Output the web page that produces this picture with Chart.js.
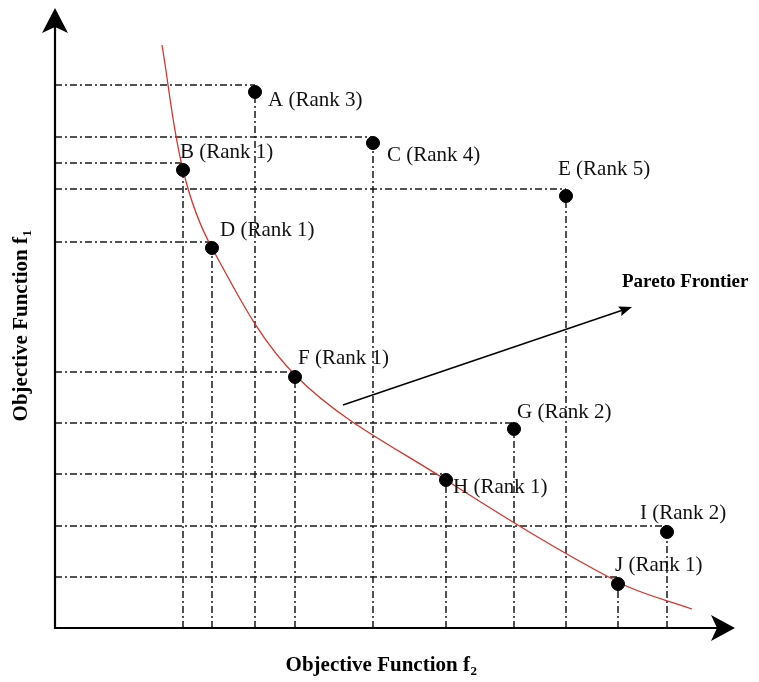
<!DOCTYPE html>
<html lang="en">
<head>
<meta charset="UTF-8">
<title>Pareto Frontier</title>
<script src="https://cdn.jsdelivr.net/npm/chart.js"></script>
<style>
  body { margin: 0; padding: 0; background: #fff; }
  #chart-container { width: 759px; height: 682px; }
</style>
</head>
<body>
<div id="chart-container"><canvas id="paretoChart"></canvas></div>
<script>
// solutions (arbitrary units)
const pointNames = ['A', 'B', 'C', 'D', 'E', 'F', 'G', 'H', 'I', 'J'];
const pointRanks = [3, 1, 4, 1, 5, 1, 2, 1, 2, 1];
const f2Values = [20.0, 12.8, 31.8, 15.7, 51.1, 24.0, 45.9, 39.1, 61.2, 56.3];
const f1Values = [53.6, 45.8, 48.5, 38.0, 43.2, 25.1, 19.9, 14.8, 9.6, 4.4];
// level of the dash-dot guide drawn for each solution
const f1Guides = [54.3, 46.5, 49.1, 38.6, 43.9, 25.6, 20.5, 15.4, 10.2, 5.1];

// red frontier curve
const frontierF2 = [10.7, 12.8, 15.7, 24.2, 39.1, 56.3, 63.7];
const frontierF1 = [58.3, 45.8, 38.0, 25.1, 14.8, 4.6, 1.9];

// "Pareto Frontier" pointer
const arrowFrom = [28.8, 22.3];
const arrowTo = [57.7, 32.1];

const xMax = 68, yMax = 62;

const guideStyle = { borderColor: '#1a1a1a', borderWidth: 1.5, borderDash: [7, 3, 2, 3], pointRadius: 0, fill: false, order: 3 };
const datasets = [];
pointNames.forEach((n, i) => {
  datasets.push(Object.assign({ type: 'line', data: [{ x: 0, y: f1Guides[i] }, { x: f2Values[i], y: f1Guides[i] }] }, guideStyle));
  datasets.push(Object.assign({ type: 'line', data: [{ x: f2Values[i], y: 0 }, { x: f2Values[i], y: f1Values[i] }] }, guideStyle));
});
datasets.push({
  type: 'line',
  data: frontierF2.map((x, i) => ({ x: x, y: frontierF1[i] })),
  borderColor: '#d8342c',
  borderWidth: 1.3,
  pointRadius: 0,
  tension: 0.35,
  fill: false,
  order: 2
});
datasets.push({
  type: 'scatter',
  data: f2Values.map((x, i) => ({ x: x, y: f1Values[i] })),
  backgroundColor: '#000',
  borderColor: '#000',
  pointRadius: 6.5,
  order: 1
});

const labelOffsets = {
  A: [13, 8], B: [-3, -18], C: [14, 12], D: [8, -18], E: [-8, -27],
  F: [3, -19], G: [3, -17], H: [7, 7], I: [-27, -19], J: [-3, -19]
};

function arrowHead(ctx, x, y, ang, len, half, notch) {
  ctx.save();
  ctx.translate(x, y);
  ctx.rotate(ang);
  ctx.beginPath();
  ctx.moveTo(0, 0);
  ctx.lineTo(-len, -half);
  ctx.lineTo(-len + notch, 0);
  ctx.lineTo(-len, half);
  ctx.closePath();
  ctx.fill();
  ctx.restore();
}

const overlay = {
  id: 'overlay',
  afterDatasetsDraw(chart) {
    const ctx = chart.ctx;
    const xs = chart.scales.x, ys = chart.scales.y;
    const x0 = xs.getPixelForValue(0), y0 = ys.getPixelForValue(0);
    const xEnd = xs.getPixelForValue(xMax), yEnd = ys.getPixelForValue(yMax);
    ctx.save();
    ctx.fillStyle = '#000';
    ctx.strokeStyle = '#000';
    // axes
    ctx.lineWidth = 2.2;
    ctx.beginPath();
    ctx.moveTo(x0, y0 + 1);
    ctx.lineTo(x0, yEnd + 12);
    ctx.moveTo(x0 - 1, y0);
    ctx.lineTo(xEnd - 12, y0);
    ctx.stroke();
    arrowHead(ctx, x0, yEnd, -Math.PI / 2, 25, 13, 6);
    arrowHead(ctx, xEnd, y0, 0, 24, 13, 6);

    // pointer to frontier
    const ax = xs.getPixelForValue(arrowFrom[0]), ay = ys.getPixelForValue(arrowFrom[1]);
    const bx = xs.getPixelForValue(arrowTo[0]), by = ys.getPixelForValue(arrowTo[1]);
    const ang = Math.atan2(by - ay, bx - ax);
    ctx.lineWidth = 1.5;
    ctx.beginPath();
    ctx.moveTo(ax, ay);
    ctx.lineTo(bx - 8 * Math.cos(ang), by - 8 * Math.sin(ang));
    ctx.stroke();
    arrowHead(ctx, bx, by, ang, 13, 5, 2);

    ctx.font = 'bold 19px "Liberation Serif"';
    ctx.textBaseline = 'alphabetic';
    ctx.fillText('Pareto Frontier', bx - 10, by - 20);

    // point labels
    ctx.font = '21px "Liberation Serif"';
    ctx.fillStyle = '#111';
    ctx.textBaseline = 'middle';
    pointNames.forEach((n, i) => {
      const px = xs.getPixelForValue(f2Values[i]);
      const py = ys.getPixelForValue(f1Values[i]);
      const off = labelOffsets[n];
      ctx.fillText(n + ' (Rank ' + pointRanks[i] + ')', px + off[0], py + off[1]);
    });

    // axis titles with subscripts
    ctx.fillStyle = '#000';
    function title(main, sub, cx, cy) {
      ctx.font = 'bold 21px "Liberation Serif"';
      const w1 = ctx.measureText(main).width;
      ctx.font = 'bold 13px "Liberation Serif"';
      const w2 = ctx.measureText(sub).width;
      const start = cx - (w1 + w2) / 2;
      ctx.textAlign = 'left';
      ctx.font = 'bold 21px "Liberation Serif"';
      ctx.fillText(main, start, cy);
      ctx.font = 'bold 13px "Liberation Serif"';
      ctx.fillText(sub, start + w1 + 0.5, cy + 6);
    }
    ctx.textBaseline = 'middle';
    title('Objective Function f', '2', 381, 666);
    ctx.save();
    ctx.translate(22, 326);
    ctx.rotate(-Math.PI / 2);
    title('Objective Function f', '1', 0, 0);
    ctx.restore();
    ctx.restore();
  }
};

new Chart(document.getElementById('paretoChart'), {
  type: 'scatter',
  data: { datasets: datasets },
  options: {
    responsive: true,
    maintainAspectRatio: false,
    animation: false,
    layout: { padding: { left: 55, right: 24, top: 8, bottom: 54 } },
    plugins: { legend: { display: false }, tooltip: { enabled: false } },
    scales: {
      x: { type: 'linear', min: 0, max: xMax, display: false },
      y: { type: 'linear', min: 0, max: yMax, display: false }
    }
  },
  plugins: [overlay]
});
</script>
</body>
</html>
